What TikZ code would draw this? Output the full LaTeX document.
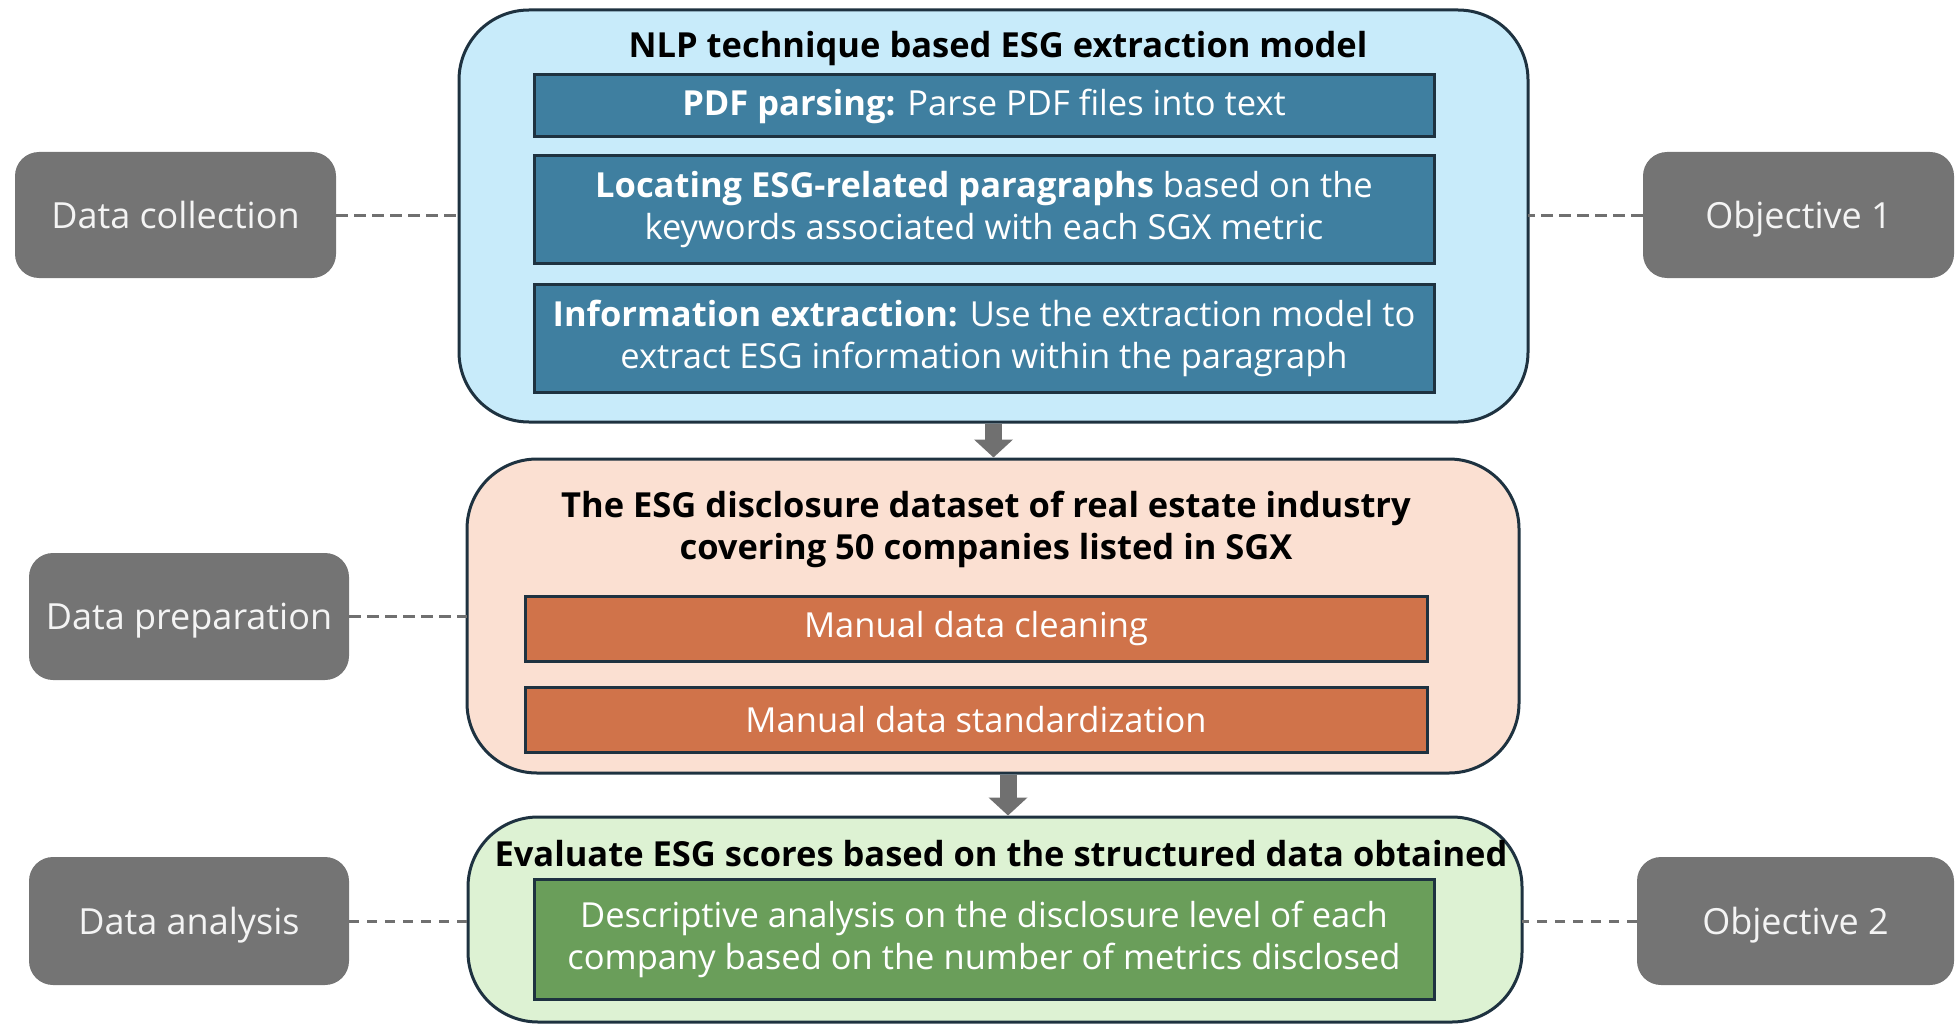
\documentclass[tikz,border=0pt]{standalone}
\usepackage{fontspec}
\setmainfont{Open Sans}
\usetikzlibrary{arrows.meta,calc}
\definecolor{bluebg}{HTML}{C8EBFA}
\definecolor{bluebox}{HTML}{3F7FA0}
\definecolor{orangebg}{HTML}{FBE0D2}
\definecolor{orangebox}{HTML}{D0734A}
\definecolor{greenbg}{HTML}{DDF2D3}
\definecolor{greenbox}{HTML}{6A9E5A}
\definecolor{darkline}{HTML}{1E3240}
\definecolor{graybox}{HTML}{747474}
\definecolor{graytext}{HTML}{F4F4F4}
\definecolor{arrowgray}{HTML}{707070}
\definecolor{dashgray}{HTML}{707070}
\begin{document}
\begin{tikzpicture}[x=1pt,y=-1pt,
  every node/.style={font=\fontsize{34.5}{42}\selectfont, inner sep=0pt, outer sep=0pt},
  container/.style={draw=darkline, line width=3pt, rounded corners=70pt, rectangle},
  innerbox/.style={draw=darkline, line width=3pt, rectangle, text=white, align=center},
  sidebox/.style={fill=graybox, rounded corners=24pt, rectangle, text=graytext, minimum height=126pt, font=\fontsize{36}{42}\selectfont, text height=30pt, text depth=4pt},
  title/.style={text=black, font=\fontsize{34.5}{42}\selectfont\bfseries, align=center},
  dashlink/.style={draw=dashgray, line width=3pt, dash pattern=on 12pt off 6pt},
  flowarrow/.style={draw=arrowgray, line width=17pt, -{Triangle[length=18pt,width=38pt]}}
]
\useasboundingbox (0,0) rectangle (1956,1027);

% containers
\node[container, fill=bluebg, minimum width=1069pt, minimum height=412pt] (blue) at (993.5,216) {};
\node[container, fill=orangebg, minimum width=1052pt, minimum height=314pt] (orange) at (993,616) {};
\node[container, fill=greenbg, minimum width=1054pt, minimum height=205pt] (green) at (995,919.5) {};

% blue content
\node[title] (t1) at (998,49) {NLP technique based ESG extraction model};
\node[innerbox, fill=bluebox, minimum width=900pt, minimum height=62pt] (b1) at (984,106)
  {\textbf{PDF parsing:} Parse PDF files into text};
\node[innerbox, fill=bluebox, minimum width=900pt, minimum height=107pt] (b2) at (984,209.5)
  {\textbf{Locating ESG-related paragraphs} based on the\\keywords associated with each SGX metric};
\node[innerbox, fill=bluebox, minimum width=900pt, minimum height=108pt] (b3) at (984,338)
  {\textbf{Information extraction:} Use the extraction model to\\extract ESG information within the paragraph};

% orange content
\node[title] (t2) at (986,529) {The ESG disclosure dataset of real estate industry\\covering 50 companies listed in SGX};
\node[innerbox, fill=orangebox, minimum width=902pt, minimum height=65pt] (o1) at (976,628.5) {Manual data cleaning};
\node[innerbox, fill=orangebox, minimum width=902pt, minimum height=65pt] (o2) at (976,719.5) {Manual data standardization};

% green content
\node[title] (t3) at (1001,854) {Evaluate ESG scores based on the structured data obtained};
\node[innerbox, fill=greenbox, minimum width=900pt, minimum height=120pt] (g1) at (984,939)
  {Descriptive analysis on the disclosure level of each\\company based on the number of metrics disclosed};

% side boxes
\node[sidebox, minimum width=321pt] (dc) at (175.5,215) {Data collection};
\node[sidebox, minimum width=320pt, minimum height=127pt] (dp) at (189,616.5) {Data preparation};
\node[sidebox, minimum width=320pt, minimum height=128pt] (da) at (189,921) {Data analysis};
\node[sidebox, minimum width=311pt] (ob1) at (1798.5,215) {Objective 1};
\node[sidebox, minimum width=317pt, minimum height=128pt] (ob2) at (1795.5,921) {Objective 2};

% dashed links
\draw[dashlink] (dc.east) -- (dc.east -| blue.west);
\draw[dashlink] (dp.east) -- (dp.east -| orange.west);
\draw[dashlink, dash pattern=on 10pt off 8pt] (da.east) -- (da.east -| green.west);
\draw[dashlink] (ob1.west) -- (ob1.west -| blue.east);
\draw[dashlink, dash pattern=on 10pt off 8pt] (ob2.west) -- (ob2.west -| green.east);

% flow arrows
\coordinate (a1s) at ([yshift=-1.5pt]blue.south);
\coordinate (a1e) at ([yshift=1.5pt]a1s |- orange.north);
\coordinate (a2s) at ([xshift=15pt,yshift=-1.5pt]orange.south);
\coordinate (a2e) at ([yshift=1.5pt]a2s |- green.north);
\draw[flowarrow] (a1s) -- (a1e);
\draw[flowarrow] (a2s) -- (a2e);
\end{tikzpicture}
\end{document}
